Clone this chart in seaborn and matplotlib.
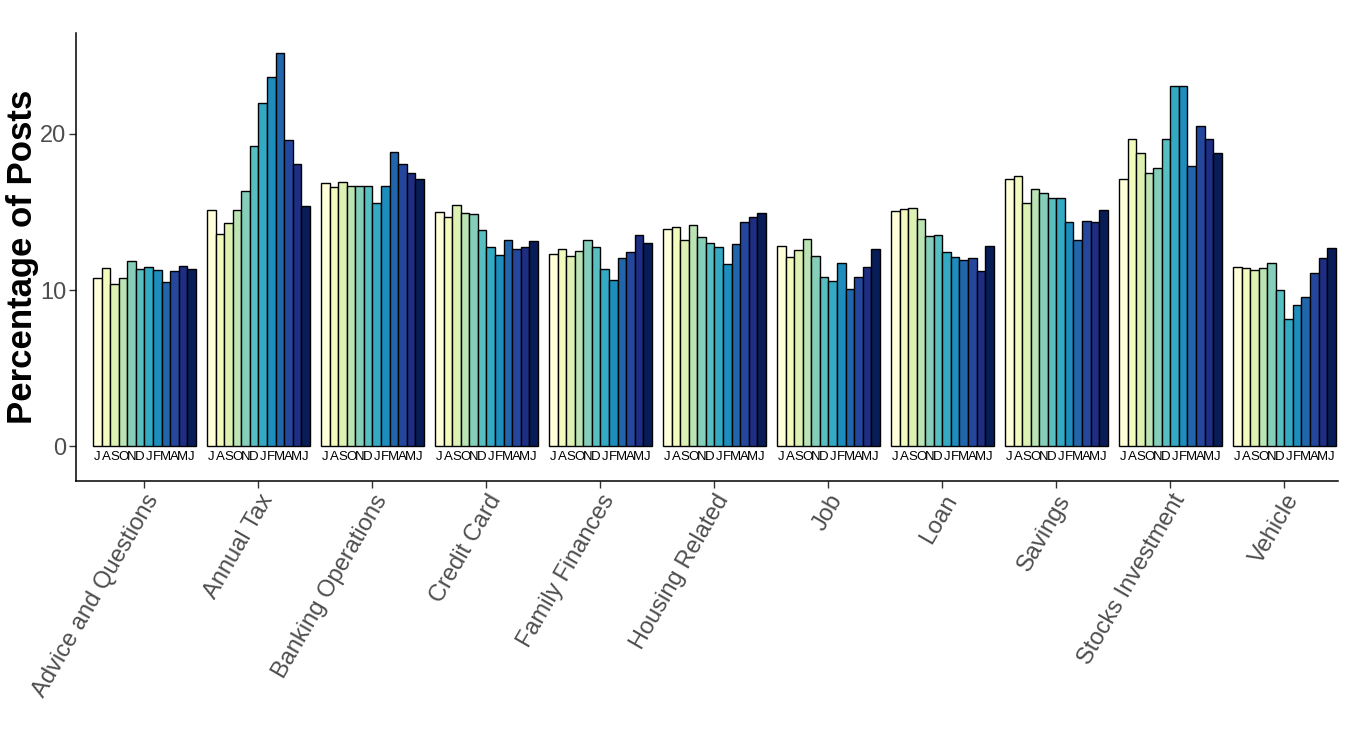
import numpy as np
import pandas as pd
import seaborn as sns
import matplotlib.pyplot as plt

categories = ["Advice and Questions", "Annual Tax", "Banking Operations", "Credit Card",
              "Family Finances", "Housing Related", "Job", "Loan", "Savings",
              "Stocks Investment", "Vehicle"]
months = ["Jul", "Aug", "Sep", "Oct", "Nov", "Dec", "Jan", "Feb", "Mar", "Apr", "May", "Jun"]

advice = [10.79, 11.41, 10.40, 10.75, 11.84, 11.37, 11.47, 11.26, 10.49, 11.20, 11.56, 11.32]
annual_tax = [15.13, 13.57, 14.32, 15.15, 16.37, 19.23, 22.00, 23.63, 25.19, 19.62, 18.10, 15.40]
banking = [16.84, 16.60, 16.90, 16.69, 16.64, 16.64, 15.55, 16.69, 18.82, 18.10, 17.52, 17.14]
credit_card = [15.00, 14.70, 15.45, 14.96, 14.87, 13.85, 12.73, 12.27, 13.23, 12.60, 12.73, 13.12]
family = [12.33, 12.63, 12.18, 12.50, 13.18, 12.76, 11.35, 10.62, 12.03, 12.46, 13.50, 12.99]
housing = [13.93, 14.01, 13.20, 14.15, 13.42, 13.01, 12.78, 11.69, 12.93, 14.34, 14.66, 14.91]
job = [12.82, 12.12, 12.54, 13.25, 12.16, 10.83, 10.56, 11.73, 10.04, 10.85, 11.49, 12.63]
loan = [15.04, 15.21, 15.26, 14.55, 13.48, 13.50, 12.41, 12.09, 11.90, 12.07, 11.22, 12.82]
savings = [17.14, 17.33, 15.60, 16.45, 16.20, 15.92, 15.88, 14.34, 13.23, 14.44, 14.36, 15.13]
stocks = [17.14, 19.66, 18.80, 17.52, 17.84, 19.66, 23.10, 23.06, 17.95, 20.53, 19.70, 18.78]
vehicle = [11.47, 11.43, 11.30, 11.41, 11.71, 10.00, 8.16, 9.06, 9.57, 11.07, 12.03, 12.67]

values = [advice, annual_tax, banking, credit_card, family, housing, job, loan,
          savings, stocks, vehicle]

rows = []
for cat, vals in zip(categories, values):
    for m, v in zip(months, vals):
        rows.append({"category": cat, "month": m, "pct": v})
df = pd.DataFrame(rows)

# YlGnBu ramp including both ends, one colour per month
cmap = plt.get_cmap("YlGnBu")
palette = [cmap(t) for t in np.linspace(0, 1, len(months))]

sns.set_style("white")
plt.rcParams["font.family"] = ["Liberation Sans", "DejaVu Sans"]

fig = plt.figure(figsize=(13.6, 7.44), dpi=100)
ax = fig.add_axes([0.0559, 0.3535, 0.9279, 0.6021])

sns.barplot(data=df, x="category", y="pct", hue="month", order=categories,
            hue_order=months, palette=palette, saturation=1, width=0.9,
            edgecolor="black", linewidth=1.0, legend=False, ax=ax)

# month initials under each bar
for k, cont in enumerate(ax.containers):
    for bar in cont:
        cx = bar.get_x() + bar.get_width() / 2
        ax.text(cx, -0.3, months[k][0], ha="center", va="top", fontsize=9.5,
                color="black")

ax.set_xlim(-0.6, 10.47)
ax.set_ylim(-2.24, 26.47)
ax.set_yticks([0, 10, 20])
ax.tick_params(axis="both", left=True, bottom=True, labelsize=17,
               labelcolor="#4d4d4d", length=5, pad=2, color="#333333", width=1)
plt.setp(ax.get_xticklabels(), rotation=60, ha="right", rotation_mode="anchor")
ax.set_xlabel("")
ax.set_ylabel("Percentage of Posts", fontsize=25, fontweight="bold", color="black")
ax.yaxis.set_label_coords(-0.029, 0.5)

for side in ["top", "right"]:
    ax.spines[side].set_visible(False)
for side in ["left", "bottom"]:
    ax.spines[side].set_color("black")
    ax.spines[side].set_linewidth(1.1)

fig.savefig("out.png", dpi=100)
